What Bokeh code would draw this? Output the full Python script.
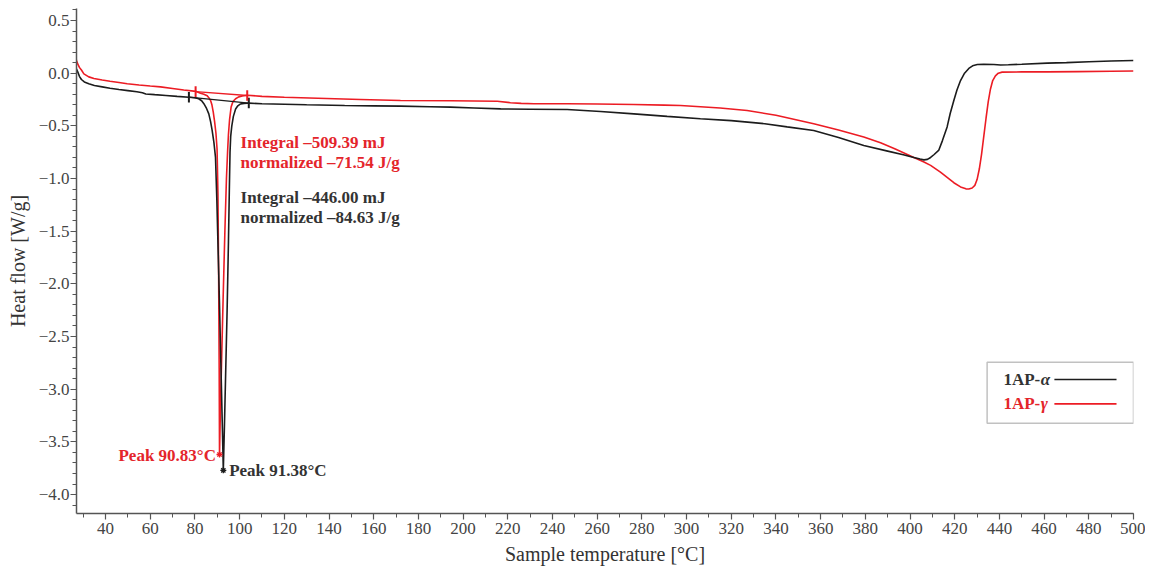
from bokeh.plotting import figure
from bokeh.models import (Range1d, SingleIntervalTicker, CustomJSTickFormatter,
                          Label, BoxAnnotation)
from bokeh.embed import file_html
from bokeh.resources import INLINE

# ---------------- data ----------------
alpha_temp = [25.6, 26.0, 26.5, 27.0, 27.6, 28.3, 29.2, 30.5, 32.5, 35.0, 38.5, 42.0, 46.0,
              50.0, 54.0, 56.5, 58.0, 62.0, 67.0, 72.0, 77.3, 80.0, 81.7, 83.0, 84.0, 85.2,
              86.2, 87.0, 87.7, 88.5, 89.2, 89.8, 90.4, 91.0, 91.6, 92.2, 92.7, 93.2, 93.8,
              94.4, 95.0, 95.4, 95.7, 96.0, 96.5, 97.2, 98.2, 99.2, 100.4, 102.0, 103.4,
              104.1, 110, 120, 130, 147, 160, 172, 185, 194.4, 205, 216.8, 230, 246.6,
              261.5, 276.4, 291.3, 306.2, 320, 335, 345, 356.9, 368, 379.3, 390, 397,
              401.7, 404.5, 406.2, 407.8, 409.2, 410.8, 412.9, 414.5, 416.6, 418.0,
              419.6, 421.0, 422.6, 424.4, 426.3, 428.0, 430.1, 433.0, 437.5, 440.5, 444,
              450, 461.4, 470, 480, 490, 500]
alpha_heat = [0.13, 0.10, 0.07, 0.04, 0.01, -0.03, -0.06, -0.083, -0.10, -0.117, -0.13,
              -0.143, -0.155, -0.166, -0.177, -0.186, -0.197, -0.204, -0.212, -0.22, -0.228,
              -0.234, -0.243, -0.262, -0.29, -0.335, -0.386, -0.46, -0.544, -0.66, -0.80,
              -1.2, -1.7, -2.2, -2.75, -3.3, -3.77, -3.35, -2.8, -2.25, -1.6, -1.1, -0.75,
              -0.60, -0.50, -0.41, -0.34, -0.31, -0.292, -0.287, -0.285, -0.284, -0.29,
              -0.295, -0.30, -0.307, -0.31, -0.313, -0.318, -0.322, -0.33, -0.339, -0.342,
              -0.345, -0.364, -0.386, -0.41, -0.433, -0.45, -0.48, -0.51, -0.544, -0.61,
              -0.687, -0.74, -0.775, -0.80, -0.815, -0.823, -0.818, -0.80, -0.772, -0.73,
              -0.64, -0.51, -0.38, -0.26, -0.16, -0.07, 0.0, 0.045, 0.07, 0.082,
              0.085, 0.082, 0.078, 0.08, 0.085, 0.095, 0.10, 0.108, 0.115, 0.12]

gamma_temp = [25.6, 26.0, 26.5, 27.0, 27.6, 28.3, 29.2, 30.3, 32.5, 34.8, 38.5, 42.0, 46.0,
              49.7, 55.0, 60.0, 64.6, 70.0, 75.0, 79.5, 80.3, 82.5, 84.0, 85.5, 86.3, 87.0,
              87.6, 88.2, 88.8, 89.4, 89.9, 90.3, 90.6, 90.85, 91.0, 91.3, 91.9, 92.6, 93.4,
              94.1, 94.6, 95.0, 95.5, 96.2, 97.0, 98.2, 99.6, 101.2, 103.4, 110, 120, 135,
              154, 172, 194.4, 205, 215.3, 221.2, 226, 231.7, 246.6, 260, 276.4, 290, 297.3,
              306.2, 315, 327.1, 340, 356.9, 368, 379.3, 386.8, 393.4, 401.7, 406, 409.2,
              413.6, 416.6, 419.6, 422.6, 425.0, 426.3, 427.8, 429.0, 430.0, 431.0, 432.0,
              433.0, 434.0, 435.0, 436.0, 437.0, 438.2, 439.5, 441.2, 450, 461.4, 475, 490, 500]
gamma_heat = [0.26, 0.21, 0.16, 0.12, 0.085, 0.055, 0.03, -0.006, -0.035, -0.05, -0.065, -0.077,
              -0.088, -0.10, -0.112, -0.122, -0.13, -0.145, -0.16, -0.17, -0.172, -0.19, -0.20,
              -0.215, -0.235, -0.26, -0.30, -0.37, -0.46, -0.57, -0.72, -1.15, -1.9, -2.8,
              -3.62, -3.3, -2.75, -2.15, -1.5, -1.0, -0.75, -0.58, -0.44, -0.32, -0.27, -0.243,
              -0.225, -0.217, -0.21, -0.22, -0.228, -0.238, -0.25, -0.26, -0.262, -0.264,
              -0.266, -0.28, -0.287, -0.29, -0.29, -0.293, -0.297, -0.303, -0.307, -0.318,
              -0.33, -0.354, -0.40, -0.48, -0.54, -0.605, -0.66, -0.72, -0.80, -0.84, -0.875,
              -0.94, -0.99, -1.04, -1.08, -1.098, -1.10, -1.09, -1.065, -1.01, -0.91, -0.77,
              -0.60, -0.43, -0.27, -0.15, -0.07, -0.025, 0.0, 0.01, 0.012, 0.012, 0.015, 0.018,
              0.02]

# integration limits (temperature, heat flow) and peaks
alpha_limits_t = [77.3, 104.1]
alpha_limits_h = [-0.228, -0.284]
gamma_limits_t = [80.3, 103.4]
gamma_limits_h = [-0.175, -0.212]
alpha_peak = (92.7, -3.77)
gamma_peak = (91.0, -3.62)

series_names = ["1AP-", "1AP-"]
series_greek = ["\u03b1", "\u03b3"]
alpha_integral = ["Integral \u2013446.00 mJ", "normalized \u201384.63 J/g"]
gamma_integral = ["Integral \u2013509.39 mJ", "normalized \u201371.54 J/g"]
alpha_peak_label = "Peak 91.38\u00b0C"
gamma_peak_label = "Peak 90.83\u00b0C"

BLACK = "#1c1c1c"
RED = "#ec1c24"
TXT_DARK = "#333333"
TXT_RED = "#e4252b"
FONT = "Liberation Serif"

p = figure(frame_width=1057, frame_height=505, output_backend="svg", toolbar_location=None,
           x_range=Range1d(27.0, 500.0), y_range=Range1d(-4.18, 0.614),
           min_border_left=76, min_border_right=12, min_border_top=8, min_border_bottom=53)
p.outline_line_color = None
p.xgrid.visible = False
p.ygrid.visible = False
p.background_fill_color = "white"
p.border_fill_color = "white"

p.xaxis.ticker = SingleIntervalTicker(interval=20, num_minor_ticks=2)
p.yaxis.ticker = SingleIntervalTicker(interval=0.5, num_minor_ticks=5)
p.yaxis.formatter = CustomJSTickFormatter(code="return tick.toFixed(1).replace('-', '\\u2212');")

for ax in (p.xaxis[0], p.yaxis[0]):
    ax.axis_line_color = "#555555"
    ax.axis_line_width = 1.5
    ax.major_tick_line_color = "#555555"
    ax.minor_tick_line_color = "#555555"
    ax.major_tick_line_width = 1.2
    ax.minor_tick_line_width = 1.0
    ax.major_tick_in = 0
    ax.major_tick_out = 6
    ax.minor_tick_in = 0
    ax.minor_tick_out = 4
    ax.major_label_text_font = FONT
    ax.major_label_text_font_size = "17px"
    ax.major_label_text_color = "#444444"
    ax.axis_label_text_font = FONT
    ax.axis_label_text_font_size = "20px"
    ax.axis_label_text_font_style = "normal"
    ax.axis_label_text_color = "#333333"

p.xaxis.axis_label = "Sample temperature [\u00b0C]"
p.yaxis.axis_label = "Heat flow [W/g]"
p.xaxis.major_label_standoff = 3
p.xaxis.axis_label_standoff = 6
p.yaxis.major_label_standoff = 1
p.yaxis.axis_label_standoff = 7

# curves
p.line(gamma_temp, gamma_heat, line_color=RED, line_width=1.6)
p.line(alpha_temp, alpha_heat, line_color=BLACK, line_width=1.6)

# integration baselines and limit marks
for lt, lh, col in ((alpha_limits_t, alpha_limits_h, BLACK), (gamma_limits_t, gamma_limits_h, RED)):
    p.line(lt, lh, line_color=col, line_width=1.3)
    p.segment(x0=lt, y0=[h + 0.05 for h in lh], x1=lt, y1=[h - 0.05 for h in lh],
              line_color=col, line_width=2)

# peak markers
p.scatter([gamma_peak[0]], [gamma_peak[1]], marker="asterisk", size=6, line_color=RED, line_width=1.3)
p.scatter([alpha_peak[0]], [alpha_peak[1]], marker="asterisk", size=6, line_color=BLACK, line_width=1.3)

def lab(x, y, text, color, align="left", style="bold"):
    p.add_layout(Label(x=x, y=y, text=text, text_font=FONT, text_font_size="17px",
                       text_font_style=style, text_color=color, text_align=align,
                       text_baseline="middle"))

lab(100.4, -0.661, gamma_integral[0], TXT_RED)
lab(100.4, -0.845, gamma_integral[1], TXT_RED)
lab(100.4, -1.183, alpha_integral[0], TXT_DARK)
lab(100.4, -1.367, alpha_integral[1], TXT_DARK)
lab(gamma_peak[0] - 1.6, gamma_peak[1] - 0.01, gamma_peak_label, TXT_RED, align="right")
lab(alpha_peak[0] + 2.6, alpha_peak[1], alpha_peak_label, TXT_DARK)

# legend (text then sample line, in a box)
p.add_layout(BoxAnnotation(left=434.5, right=500.0, top=-2.744, bottom=-3.323,
                           fill_color=None, line_color="#333333", line_width=1.5))
leg_y = [-2.908, -3.139]
leg_cols = [BLACK, RED]
leg_txt = [TXT_DARK, TXT_RED]
for i in range(2):
    lab(441.8, leg_y[i], series_names[i], leg_txt[i])
    lab(458.5, leg_y[i], series_greek[i], leg_txt[i], style="bold italic")
    p.line([464.6, 492.4], [leg_y[i], leg_y[i]], line_color=leg_cols[i], line_width=1.6)

open("out.html", "w").write(file_html(p, INLINE))
